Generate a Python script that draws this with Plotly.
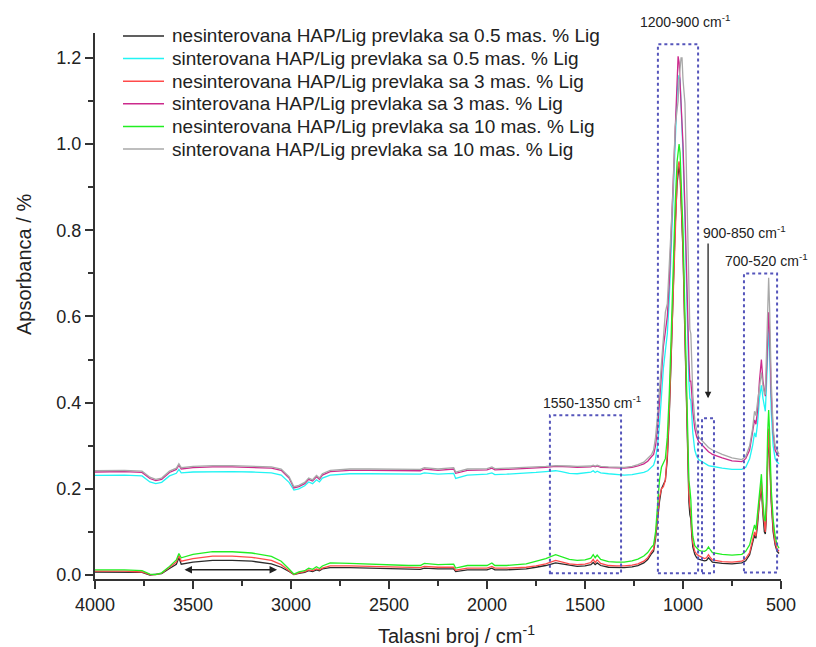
import plotly.graph_objects as go

# ---------------- data ----------------
wavenumber = [
    # 4000-1800
    4000, 3850, 3760, 3720, 3690, 3660, 3620, 3585, 3572, 3560, 3500, 3400, 3300, 3200, 3100,
    3050, 3010, 2985, 2960, 2930, 2910, 2890, 2870, 2855, 2840, 2800, 2700, 2600, 2500, 2400,
    2340, 2320, 2250, 2170, 2160, 2100, 2000, 1975, 1960, 1900, 1800,
    # 1750-1160
    1750, 1700, 1650, 1620, 1580, 1540, 1500, 1470, 1458, 1448, 1438, 1420, 1380, 1340, 1300,
    1260, 1230, 1200, 1180, 1160,
    # 1150-900
    1150, 1140, 1130, 1120, 1110, 1100, 1090, 1080, 1070, 1060, 1050, 1040, 1030, 1025, 1020,
    1015, 1010, 1005, 1000, 990, 980, 970, 965, 960, 955, 950, 940, 930, 920, 910, 900,
    # 890-510
    890, 880, 870, 860, 850, 800, 750, 700, 680, 660, 645, 635, 628, 620, 610, 600, 592, 585,
    580, 575, 568, 563, 558, 550, 540, 530, 520, 510,
]

nes_05 = [
    0.007, 0.007, 0.006, 0.000, 0.001, 0.003, 0.015, 0.025, 0.040, 0.025, 0.030, 0.034, 0.034, 0.032, 0.026,
    0.018, 0.008, 0.001, 0.004, 0.006, 0.010, 0.008, 0.012, 0.010, 0.014, 0.017, 0.017, 0.016, 0.014, 0.013,
    0.013, 0.016, 0.014, 0.014, 0.008, 0.012, 0.012, 0.016, 0.012, 0.012, 0.014,
    0.018, 0.022, 0.028, 0.026, 0.022, 0.020, 0.021, 0.024, 0.029, 0.024, 0.028, 0.022, 0.018, 0.017, 0.017,
    0.019, 0.022, 0.028, 0.036, 0.050,
    0.055, 0.085, 0.13, 0.17, 0.20, 0.21, 0.22, 0.27, 0.37, 0.51, 0.67, 0.81, 0.91, 0.94, 0.95,
    0.93, 0.88, 0.82, 0.75, 0.55, 0.33, 0.17, 0.14, 0.13, 0.09, 0.065, 0.048, 0.040, 0.037, 0.035, 0.034,
    0.033, 0.034, 0.040, 0.034, 0.030, 0.027, 0.026, 0.028, 0.033, 0.047, 0.075, 0.093, 0.085, 0.115,
    0.17, 0.20, 0.14, 0.10, 0.095, 0.13, 0.27, 0.32, 0.27, 0.17, 0.10, 0.070, 0.055, 0.050,
]

sin_05 = [
    0.231, 0.232, 0.230, 0.216, 0.212, 0.215, 0.230, 0.236, 0.245, 0.237, 0.239, 0.240, 0.240, 0.239, 0.237,
    0.232, 0.215, 0.197, 0.200, 0.207, 0.216, 0.212, 0.221, 0.216, 0.225, 0.232, 0.235, 0.235, 0.234, 0.234,
    0.234, 0.237, 0.234, 0.236, 0.224, 0.232, 0.234, 0.237, 0.233, 0.234, 0.236,
    0.238, 0.240, 0.242, 0.240, 0.236, 0.235, 0.238, 0.239, 0.242, 0.238, 0.241, 0.237, 0.235, 0.233, 0.232,
    0.233, 0.235, 0.238, 0.242, 0.250,
    0.255, 0.27, 0.30, 0.35, 0.42, 0.48, 0.52, 0.56, 0.64, 0.77, 0.90, 1.02, 1.12, 1.15, 1.16,
    1.15, 1.10, 1.04, 0.98, 0.82, 0.62, 0.45, 0.41, 0.405, 0.37, 0.33, 0.29, 0.275, 0.268, 0.265, 0.262,
    0.259, 0.256, 0.254, 0.253, 0.252, 0.248, 0.245, 0.245, 0.250, 0.270, 0.30, 0.33, 0.32, 0.35,
    0.41, 0.44, 0.41, 0.385, 0.38, 0.43, 0.54, 0.57, 0.52, 0.38, 0.30, 0.27, 0.262, 0.258,
]

nes_3 = [
    0.009, 0.009, 0.007, 0.001, 0.001, 0.004, 0.018, 0.030, 0.045, 0.032, 0.038, 0.044, 0.044, 0.041, 0.034,
    0.024, 0.010, 0.001, 0.005, 0.008, 0.012, 0.010, 0.014, 0.012, 0.016, 0.021, 0.021, 0.020, 0.018, 0.017,
    0.017, 0.020, 0.018, 0.018, 0.011, 0.016, 0.016, 0.020, 0.016, 0.016, 0.018,
    0.021, 0.026, 0.034, 0.031, 0.026, 0.024, 0.025, 0.029, 0.036, 0.029, 0.035, 0.027, 0.022, 0.021, 0.021,
    0.023, 0.026, 0.032, 0.040, 0.055,
    0.06, 0.09, 0.14, 0.18, 0.20, 0.205, 0.22, 0.28, 0.38, 0.52, 0.68, 0.82, 0.92, 0.95, 0.96,
    0.94, 0.89, 0.83, 0.76, 0.56, 0.35, 0.19, 0.16, 0.145, 0.10, 0.075, 0.055, 0.048, 0.045, 0.042, 0.040,
    0.038, 0.040, 0.047, 0.040, 0.035, 0.031, 0.030, 0.032, 0.038, 0.052, 0.080, 0.10, 0.09, 0.125,
    0.18, 0.216, 0.15, 0.11, 0.10, 0.14, 0.29, 0.34, 0.29, 0.18, 0.11, 0.075, 0.060, 0.055,
]

sin_3 = [
    0.239, 0.240, 0.238, 0.224, 0.219, 0.222, 0.238, 0.245, 0.255, 0.246, 0.249, 0.251, 0.251, 0.250, 0.248,
    0.243, 0.225, 0.202, 0.205, 0.212, 0.222, 0.218, 0.228, 0.222, 0.232, 0.240, 0.243, 0.243, 0.242, 0.242,
    0.242, 0.246, 0.243, 0.246, 0.236, 0.243, 0.244, 0.248, 0.244, 0.245, 0.247,
    0.248, 0.250, 0.252, 0.252, 0.251, 0.250, 0.250, 0.251, 0.253, 0.251, 0.253, 0.250, 0.249, 0.248, 0.248,
    0.250, 0.253, 0.258, 0.264, 0.275,
    0.28, 0.30, 0.34, 0.40, 0.47, 0.53, 0.565, 0.60, 0.68, 0.80, 0.93, 1.05, 1.17, 1.204, 1.19,
    1.15, 1.10, 1.05, 1.00, 0.85, 0.65, 0.50, 0.45, 0.45, 0.42, 0.38, 0.34, 0.32, 0.31, 0.305, 0.30,
    0.295, 0.290, 0.286, 0.283, 0.280, 0.272, 0.265, 0.263, 0.270, 0.290, 0.33, 0.36, 0.35, 0.38,
    0.45, 0.50, 0.45, 0.42, 0.415, 0.46, 0.58, 0.61, 0.56, 0.42, 0.33, 0.29, 0.280, 0.275,
]

nes_10 = [
    0.012, 0.012, 0.010, 0.002, 0.001, 0.005, 0.020, 0.035, 0.050, 0.040, 0.048, 0.054, 0.054, 0.051, 0.043,
    0.032, 0.014, 0.002, 0.007, 0.010, 0.016, 0.013, 0.019, 0.015, 0.021, 0.028, 0.027, 0.025, 0.023, 0.022,
    0.022, 0.027, 0.024, 0.025, 0.016, 0.022, 0.022, 0.028, 0.022, 0.022, 0.026,
    0.032, 0.038, 0.047, 0.043, 0.036, 0.034, 0.035, 0.039, 0.047, 0.040, 0.046, 0.036, 0.031, 0.030, 0.030,
    0.033, 0.037, 0.044, 0.052, 0.065,
    0.07, 0.10, 0.16, 0.22, 0.25, 0.26, 0.27, 0.32, 0.42, 0.56, 0.72, 0.86, 0.96, 0.99, 1.00,
    0.98, 0.93, 0.87, 0.80, 0.60, 0.38, 0.22, 0.20, 0.175, 0.12, 0.09, 0.068, 0.062, 0.058, 0.056, 0.055,
    0.055, 0.058, 0.065, 0.058, 0.052, 0.048, 0.046, 0.048, 0.055, 0.070, 0.10, 0.116, 0.105, 0.14,
    0.20, 0.234, 0.17, 0.13, 0.125, 0.17, 0.33, 0.383, 0.33, 0.20, 0.13, 0.09, 0.070, 0.062,
]

sin_10 = [
    0.242, 0.243, 0.241, 0.227, 0.222, 0.225, 0.241, 0.248, 0.258, 0.249, 0.252, 0.254, 0.254, 0.253, 0.251,
    0.246, 0.228, 0.205, 0.208, 0.215, 0.225, 0.221, 0.231, 0.225, 0.235, 0.243, 0.246, 0.246, 0.245, 0.245,
    0.245, 0.249, 0.246, 0.249, 0.239, 0.246, 0.247, 0.251, 0.247, 0.248, 0.250,
    0.250, 0.252, 0.254, 0.254, 0.253, 0.252, 0.252, 0.253, 0.255, 0.253, 0.255, 0.252, 0.251, 0.250, 0.250,
    0.252, 0.256, 0.262, 0.270, 0.280,
    0.29, 0.32, 0.37, 0.43, 0.50, 0.57, 0.61, 0.63, 0.72, 0.84, 0.90, 1.04, 1.08, 1.10, 1.15,
    1.18, 1.20, 1.20, 1.15, 1.095, 0.85, 0.62, 0.57, 0.56, 0.50, 0.42, 0.36, 0.335, 0.32, 0.315, 0.31,
    0.305, 0.300, 0.296, 0.293, 0.290, 0.280, 0.272, 0.268, 0.275, 0.300, 0.34, 0.38, 0.37, 0.40,
    0.44, 0.47, 0.44, 0.42, 0.42, 0.50, 0.65, 0.69, 0.62, 0.45, 0.34, 0.30, 0.290, 0.280,
]

series_names = [
    "nesinterovana HAP/Lig prevlaka sa 0.5 mas. % Lig",
    "sinterovana HAP/Lig prevlaka sa 0.5 mas. % Lig",
    "nesinterovana HAP/Lig prevlaka sa 3 mas. % Lig",
    "sinterovana HAP/Lig prevlaka sa 3 mas. % Lig",
    "nesinterovana HAP/Lig prevlaka sa 10 mas. % Lig",
    "sinterovana HAP/Lig prevlaka sa 10 mas. % Lig",
]
series_values = [nes_05, sin_05, nes_3, sin_3, nes_10, sin_10]
series_colors = ["#2b2b2b", "#22f4f4", "#ff4a4a", "#cc2a8c", "#22ee22", "#a8a8a8"]

# highlighted regions (wavenumber from, to, absorbance bottom, top) and their labels
region_boxes = [(1679, 1316, 0.004, 0.371), (1128, 923, 0.004, 1.232),
                (903, 842, 0.004, 0.364), (689, 520, 0.006, 0.700)]
region_labels = ["1550-1350 cm<sup>-1</sup>", "1200-900 cm<sup>-1</sup>",
                 "900-850 cm<sup>-1</sup>", "700-520 cm<sup>-1</sup>"]

for v in series_values:
    assert len(v) == len(wavenumber)

OFF = 8  # page body margin
W, H = 816 - OFF, 647 - OFF
L, T = 87, 25
PLOT_W, PLOT_H = 686, 546
R, B = W - L - PLOT_W, H - T - PLOT_H

fig = go.Figure()
for name, vals, col in zip(series_names, series_values, series_colors):
    fig.add_trace(go.Scatter(x=wavenumber, y=vals, mode="lines", name=name,
                             line=dict(color=col, width=1.3), showlegend=False))

for (x0, x1, y0, y1) in region_boxes:
    fig.add_shape(type="rect", x0=x0, x1=x1, y0=y0, y1=y1, xref="x", yref="y",
                  line=dict(color="#5555bb", width=2, dash="dot"))

font = "Liberation Sans, Arial, sans-serif"
lab_font = dict(family=font, size=14, color="#222")


def px2paper(px, py):
    """screen pixel -> paper coordinates"""
    return ((px - OFF - L) / PLOT_W, (T + PLOT_H - (py - OFF)) / PLOT_H)


label_pos = [(592, 402), (685, 21), (744, 232), (766, 260)]
for txt, (px, py) in zip(region_labels, label_pos):
    xp, yp = px2paper(px, py)
    fig.add_annotation(text=txt, x=xp, y=yp, xref="paper", yref="paper",
                       showarrow=False, font=lab_font, xanchor="center", yanchor="middle")

# vertical arrow pointing at 900-850 region
fig.add_annotation(x=872, y=0.41, ax=872, ay=0.773, xref="x", yref="y", axref="x", ayref="y",
                   text="", showarrow=True, arrowhead=2, arrowsize=1, arrowwidth=1.3,
                   arrowcolor="#222")
# horizontal double arrow under broad OH band
fig.add_annotation(x=3071, y=0.012, ax=3551, ay=0.012, xref="x", yref="y", axref="x", ayref="y",
                   text="", showarrow=True, arrowhead=2, startarrowhead=2, arrowside="end+start",
                   arrowsize=1, arrowwidth=1.5, arrowcolor="#222")

# manual legend (line sample + text)
for i, (name, col) in enumerate(zip(series_names, series_colors)):
    cy = 36 + 22.6 * i
    x0p, yp = px2paper(123, cy)
    x1p, _ = px2paper(164, cy)
    fig.add_shape(type="line", x0=x0p, x1=x1p, y0=yp, y1=yp, xref="paper", yref="paper",
                  line=dict(color=col, width=1.5))
    xt, _ = px2paper(170, cy)
    fig.add_annotation(text=name, x=xt, y=yp, xref="paper", yref="paper", showarrow=False,
                       xanchor="left", yanchor="middle",
                       font=dict(family=font, size=19, color="#222"))

# axis titles
xp, yp = px2paper(456, 634)
fig.add_annotation(text="Talasni broj / cm<sup>-1</sup>", x=xp, y=yp, xref="paper", yref="paper",
                   showarrow=False, xanchor="center", yanchor="middle",
                   font=dict(family=font, size=20, color="#222"))
xp, yp = px2paper(24, 265)
fig.add_annotation(text="Apsorbanca / %", x=xp, y=yp, xref="paper", yref="paper", textangle=-90,
                   showarrow=False, xanchor="center", yanchor="middle",
                   font=dict(family=font, size=20, color="#222"))

axis_common = dict(showline=True, linecolor="#333", linewidth=2, ticks="outside",
                   ticklen=8, tickwidth=1.5, tickcolor="#333", showgrid=False, zeroline=False,
                   tickfont=dict(family=font, size=18, color="#222"))

fig.update_xaxes(range=[4000, 500], tickmode="linear", tick0=500, dtick=500,
                 minor=dict(dtick=250, tick0=500, ticks="outside", ticklen=5, tickcolor="#333",
                            tickwidth=1.5),
                 **axis_common)
fig.update_yaxes(range=[-0.0093, 1.258], tickmode="linear", tick0=0, dtick=0.2, tickformat=".1f",
                 minor=dict(dtick=0.1, tick0=0, ticks="outside", ticklen=5, tickcolor="#333",
                            tickwidth=1.5),
                 **axis_common)

fig.update_layout(
    width=W, height=H, margin=dict(l=L, r=R, t=T, b=B, autoexpand=False),
    plot_bgcolor="white", paper_bgcolor="white",
    showlegend=False,
)

fig.write_html("out.html")
